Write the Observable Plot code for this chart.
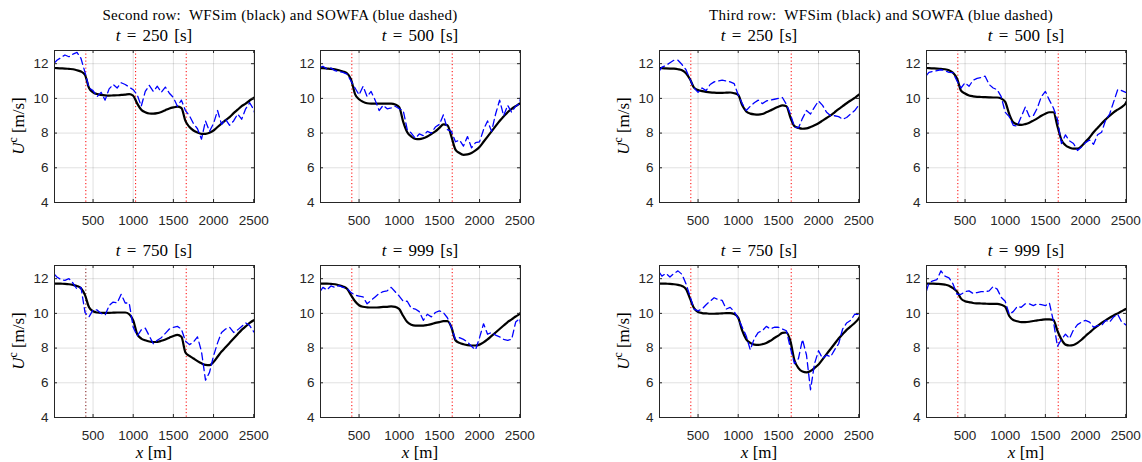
<!DOCTYPE html>
<html><head><meta charset="utf-8">
<script src="https://cdn.jsdelivr.net/npm/d3@7"></script>
<script src="https://cdn.jsdelivr.net/npm/@observablehq/plot@0.6"></script>
<style>
body{margin:0;background:#fff;}
#root{position:relative;width:1142px;height:462px;overflow:hidden;font-family:"Liberation Serif","Times New Roman",serif;color:#000;}
.lbl{position:absolute;white-space:pre;text-align:center;}
.lbl sup{font-size:0.68em;vertical-align:0.55em;line-height:0;}
</style></head><body><div id="root"></div><script>
// ---- data ----
const xGrid = [20,50,100,150,200,250,300,350,400,450,500,550,600,650,700,750,800,850,900,950,1000,1050,1100,1150,1200,1250,1300,1350,1400,1450,1500,1550,1600,1650,1700,1750,1800,1850,1900,1950,2000,2050,2100,2150,2200,2250,2300,2350,2400,2450,2500,2510];
const xTicks = [500,1000,1500,2000,2500];
const yTicks = [4,6,8,10,12];
const xDomain = [20,2510];
const yDomain = [4,12.76];
const times = [250,500,750,999];
const groupTitles = ["Second row:  WFSim (black) and SOWFA (blue dashed)", "Third row:  WFSim (black) and SOWFA (blue dashed)"];

// Second row group: WFSim (black)
const wf2_250 = [11.75,11.74,11.73,11.72,11.70,11.68,11.62,11.55,11.35,10.6,10.35,10.25,10.2,10.17,10.16,10.17,10.18,10.2,10.22,10.25,10.15,9.7,9.35,9.2,9.13,9.12,9.15,9.22,9.32,9.42,9.48,9.52,9.45,8.7,8.35,8.15,8.03,7.96,7.96,8.02,8.15,8.35,8.55,8.75,8.92,9.15,9.35,9.55,9.7,9.88,10.02,10.05];
const wf2_500 = [11.75,11.74,11.72,11.7,11.67,11.62,11.55,11.45,11.1,10.25,9.95,9.8,9.72,9.7,9.7,9.7,9.7,9.7,9.7,9.65,9.5,8.65,8.05,7.8,7.66,7.65,7.7,7.8,7.95,8.1,8.3,8.5,8.45,7.8,7.05,6.85,6.75,6.77,6.85,7.0,7.2,7.5,7.8,8.1,8.4,8.7,8.95,9.2,9.4,9.55,9.7,9.72];
const wf2_750 = [11.72,11.72,11.71,11.7,11.68,11.64,11.58,11.45,11.05,10.35,10.12,10.05,10.03,10.03,10.03,10.04,10.05,10.05,10.05,9.95,9.6,8.8,8.55,8.45,8.38,8.35,8.36,8.42,8.5,8.6,8.7,8.76,8.65,7.75,7.55,7.4,7.25,7.12,7.03,7.02,7.2,7.5,7.8,8.05,8.3,8.55,8.8,9.05,9.25,9.45,9.6,9.62];
const wf2_999 = [11.72,11.72,11.72,11.7,11.68,11.62,11.55,11.42,11.05,10.7,10.47,10.38,10.35,10.34,10.34,10.35,10.37,10.38,10.4,10.38,10.25,9.85,9.5,9.35,9.3,9.3,9.3,9.33,9.38,9.45,9.5,9.55,9.55,9.2,8.45,8.3,8.22,8.17,8.15,8.15,8.2,8.33,8.5,8.7,8.9,9.1,9.3,9.5,9.65,9.82,9.97,10.02];
// Second row group: SOWFA (blue dashed)
const sow2_250 = [12.05,12.2,12.35,12.5,12.4,12.55,12.65,12.3,11.5,10.6,10.45,10.1,10.35,9.9,10.55,10.8,10.6,10.9,10.8,10.65,10.5,10.2,9.55,10.4,10.75,10.4,10.7,10.35,10.65,10.3,10.05,9.55,9.9,9.3,9.0,8.55,8.25,7.65,8.7,8.1,8.55,9.3,8.5,8.8,8.45,8.7,9.1,8.8,9.4,9.75,9.35,9.2];
const sow2_500 = [11.8,11.85,11.7,11.75,11.6,11.55,11.5,11.4,11.0,10.6,10.2,10.7,10.1,10.4,9.9,9.3,9.6,9.4,9.45,9.55,9.4,9.3,8.2,8.0,7.7,7.95,7.85,8.1,8.0,8.35,8.5,9.05,8.2,8.1,7.5,7.6,7.25,7.8,7.15,7.45,7.5,8.2,8.7,8.1,9.1,9.9,9.0,9.6,9.2,9.55,9.7,10.05];
const sow2_750 = [12.25,12.1,11.95,11.9,12.0,11.75,11.4,11.5,10.05,9.8,10.2,10.2,10.0,9.9,10.45,10.65,10.6,11.1,10.6,10.6,9.2,8.7,9.05,9.15,8.7,8.25,8.45,8.6,8.85,9.1,9.2,9.25,9.1,8.4,8.2,8.35,8.65,7.8,6.15,6.6,7.55,8.3,8.9,9.1,9.2,8.9,9.05,9.25,9.45,9.3,8.95,8.9];
const sow2_999 = [11.3,11.5,11.35,11.58,11.5,11.6,11.5,11.45,11.2,11.05,11.0,10.95,10.55,10.75,10.95,11.15,11.25,11.3,11.5,11.25,11.0,10.7,10.7,10.3,10.25,10.1,9.6,9.95,9.8,10.05,10.15,10.05,9.75,9.2,8.5,8.6,8.5,8.35,8.1,7.9,8.6,9.4,8.8,8.9,8.75,8.65,8.5,8.45,8.5,9.5,9.7,9.4];

// Third row group: WFSim (black)
const wf3_250 = [11.75,11.74,11.73,11.72,11.71,11.68,11.62,11.45,11.1,10.62,10.48,10.42,10.38,10.35,10.33,10.32,10.32,10.33,10.34,10.3,10.2,9.6,9.25,9.12,9.08,9.07,9.1,9.2,9.3,9.42,9.52,9.6,9.55,8.9,8.4,8.3,8.25,8.27,8.35,8.45,8.57,8.72,8.87,9.02,9.2,9.38,9.55,9.72,9.88,10.03,10.2,10.24];
const wf3_500 = [11.75,11.74,11.73,11.72,11.7,11.68,11.62,11.48,11.15,10.45,10.28,10.17,10.12,10.09,10.08,10.07,10.06,10.05,10.05,10.0,9.8,9.1,8.62,8.5,8.47,8.52,8.6,8.72,8.85,9.0,9.12,9.2,9.2,8.4,7.6,7.3,7.17,7.1,7.1,7.25,7.5,7.75,8.05,8.3,8.55,8.78,9.0,9.2,9.35,9.5,9.72,9.8];
const wf3_750 = [11.72,11.72,11.71,11.7,11.68,11.64,11.58,11.4,10.85,10.3,10.08,10.02,10.0,9.98,9.98,9.99,10.0,10.02,10.02,9.97,9.75,9.0,8.5,8.3,8.2,8.18,8.22,8.3,8.42,8.58,8.72,8.88,8.9,8.4,7.3,6.85,6.65,6.6,6.68,6.85,7.05,7.35,7.65,7.95,8.25,8.55,8.8,9.05,9.25,9.45,9.7,9.78];
const wf3_999 = [11.72,11.72,11.71,11.7,11.69,11.66,11.6,11.45,11.25,10.85,10.7,10.65,10.6,10.58,10.57,10.56,10.55,10.55,10.55,10.5,10.38,9.85,9.62,9.55,9.5,9.5,9.52,9.56,9.6,9.63,9.66,9.66,9.62,9.0,8.5,8.2,8.15,8.18,8.3,8.48,8.7,8.9,9.1,9.28,9.45,9.6,9.75,9.88,10.0,10.12,10.25,10.27];
// Third row group: SOWFA (blue dashed)
const sow3_250 = [11.6,11.8,11.9,12.05,12.2,12.2,11.95,11.65,11.1,10.6,10.35,10.6,10.45,10.8,10.95,11.0,11.05,11.0,10.95,10.85,10.2,9.7,9.3,9.55,9.75,9.9,9.7,9.85,9.9,9.95,10.0,10.05,9.65,9.1,8.35,8.3,8.85,9.3,9.1,9.5,9.85,9.6,9.2,9.0,9.0,8.95,8.8,8.9,9.1,9.3,9.6,9.7];
const sow3_500 = [11.33,11.5,11.55,11.6,11.65,11.6,11.5,11.48,11.0,10.6,10.9,10.7,11.05,11.15,11.2,11.28,10.8,10.6,10.5,10.1,9.2,8.95,8.45,8.4,8.95,9.5,8.95,9.0,9.45,10.1,10.4,9.9,9.45,8.8,7.4,7.9,7.55,7.4,7.0,7.2,7.45,7.6,7.35,7.9,8.05,8.75,9.1,9.8,10.5,10.45,10.35,10.35];
const sow3_750 = [12.35,12.15,12.3,12.1,12.3,12.45,12.25,11.7,11.0,10.25,10.15,10.25,10.5,10.7,10.9,10.8,10.75,10.25,10.35,10.1,9.7,9.2,8.7,7.9,8.55,8.9,9.0,9.25,9.1,9.2,9.2,9.1,9.0,8.0,7.1,7.4,8.5,7.6,5.6,7.1,7.85,7.4,7.6,7.5,7.9,8.25,9.1,9.45,9.6,9.95,9.95,9.9];
const sow3_999 = [11.3,11.75,11.88,11.95,12.45,12.15,12.05,11.7,11.1,11.1,11.25,11.3,11.15,11.2,11.25,11.25,11.3,11.55,11.4,10.93,10.7,9.95,10.1,10.4,10.35,10.55,10.55,10.45,10.55,10.5,10.45,10.6,9.55,8.1,8.5,8.8,8.55,9.05,9.35,9.5,9.6,9.5,9.2,9.3,9.3,9.6,9.5,9.8,9.95,9.5,9.35,9.3];

// turbine locations (vertical dotted lines)
const turbines3 = [410, 1030, 1660];
const turbines2 = [410, 1660];

// ---- layout ----
const FW = 200, FH = 152;
const colL = [54, 320, 659, 926];
const rowT = [50, 265];
const RED = "#ff0000";

const panels = [
  {t: times[0], wf: wf2_250, sow: sow2_250, col: 0, row: 0, turb: turbines3.map(x => ({x, c: RED}))},
  {t: times[1], wf: wf2_500, sow: sow2_500, col: 1, row: 0, turb: turbines2.map(x => ({x, c: RED}))},
  {t: times[2], wf: wf2_750, sow: sow2_750, col: 0, row: 1, turb: turbines2.map((x, i) => ({x, c: i === 0 ? "#7a1010" : RED}))},
  {t: times[3], wf: wf2_999, sow: sow2_999, col: 1, row: 1, turb: turbines2.map(x => ({x, c: RED}))},
  {t: times[0], wf: wf3_250, sow: sow3_250, col: 2, row: 0, turb: turbines2.map(x => ({x, c: RED}))},
  {t: times[1], wf: wf3_500, sow: sow3_500, col: 3, row: 0, turb: turbines2.map(x => ({x, c: RED}))},
  {t: times[2], wf: wf3_750, sow: sow3_750, col: 2, row: 1, turb: turbines2.map(x => ({x, c: RED}))},
  {t: times[3], wf: wf3_999, sow: sow3_999, col: 3, row: 1, turb: turbines2.map(x => ({x, c: RED}))}
];

const root = document.getElementById("root");

function addLabel(html, cx, baseline, fs, rotate, extra) {
  const d = document.createElement("div");
  d.className = "lbl";
  d.innerHTML = html;
  d.style.fontSize = fs + "px";
  d.style.lineHeight = fs + "px";
  if (extra) Object.assign(d.style, extra);
  if (rotate) {
    d.style.width = "200px";
    d.style.left = cx + "px";
    d.style.top = baseline + "px";
    d.style.transform = "translate(-50%,-50%) rotate(-90deg)";
  } else {
    d.style.width = "500px";
    d.style.left = (cx - 250) + "px";
    d.style.top = (baseline - 0.84 * fs) + "px";
  }
  root.appendChild(d);
}

const fmt = d => String(d);
const mL = 36, mR = 14, mT = 6, mB = 28;
for (const p of panels) {
  const L = colL[p.col], T = rowT[p.row];
  const wfData = xGrid.map((x, i) => ({x, y: p.wf[i]}));
  const sowData = xGrid.map((x, i) => ({x, y: p.sow[i]}));
  const svg = Plot.plot({
    width: mL + FW + mR, height: mT + FH + mB,
    marginLeft: mL, marginRight: mR, marginTop: mT, marginBottom: mB,
    x: {domain: xDomain, axis: null},
    y: {domain: yDomain, axis: null},
    color: {type: "identity"},
    style: {fontFamily: "'Liberation Sans', Arial, sans-serif", fontSize: "13.5px", color: "#262626", background: "transparent", overflow: "visible"},
    marks: [
      Plot.gridX(xTicks, {stroke: "#000", strokeOpacity: 0.12, strokeWidth: 1}),
      Plot.gridY(yTicks, {stroke: "#000", strokeOpacity: 0.12, strokeWidth: 1}),
      Plot.ruleX(p.turb, {x: "x", stroke: "c", strokeWidth: 1, strokeDasharray: "1.2,2.3"}),
      Plot.line(wfData, {x: "x", y: "y", stroke: "#000", strokeWidth: 2.2, curve: "monotone-x", clip: true}),
      Plot.line(sowData, {x: "x", y: "y", stroke: "#0000ff", strokeWidth: 1.3, strokeDasharray: "7,4", clip: true}),
      Plot.frame({stroke: "#262626", strokeWidth: 1}),
      Plot.ruleX(xTicks, {insetTop: FH - 3, stroke: "#262626"}),
      Plot.ruleX(xTicks, {insetBottom: FH - 3, stroke: "#262626"}),
      Plot.ruleY(yTicks, {insetRight: FW - 3, stroke: "#262626"}),
      Plot.ruleY(yTicks, {insetLeft: FW - 3, stroke: "#262626"}),
      Plot.axisX(xTicks, {tickSize: 0, tickPadding: 13, fontSize: 13.5, label: null, tickFormat: fmt}),
      Plot.axisY(yTicks, {tickSize: 0, tickPadding: 6, fontSize: 13.5, label: null, tickFormat: fmt})
    ]
  });
  svg.style.position = "absolute";
  svg.style.left = (L - mL) + "px";
  svg.style.top = (T - mT) + "px";
  svg.style.maxWidth = "none";
  root.appendChild(svg);

  const cx = L + FW / 2;
  addLabel("<i>t</i> = " + p.t + " [s]", cx, T - 9, 17, false, {wordSpacing: "2px"});
  if (p.col === 0 || p.col === 2) addLabel("<i>U</i><sup>c</sup> [m/s]", L - 36, T + FH / 2, 17, true);
  if (p.row === 1) addLabel("<i>x</i> [m]", cx, 458, 17);
}
addLabel(groupTitles[0], 280, 21, 15, false, {letterSpacing: "0.3px"});
addLabel(groupTitles[1], 881, 21, 15, false, {letterSpacing: "0.3px"});
</script></body></html>
